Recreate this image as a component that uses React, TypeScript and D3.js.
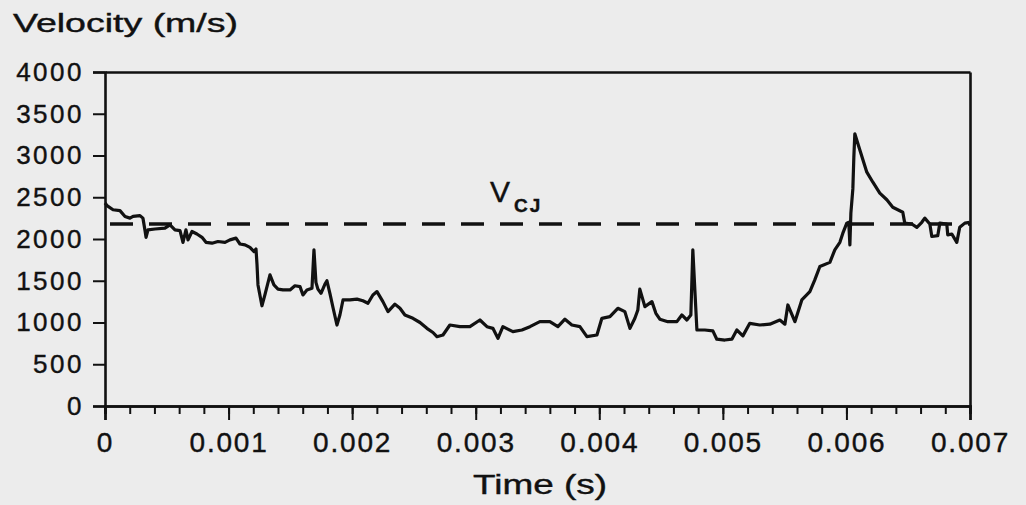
import React, { useEffect, useRef } from "react";
import * as d3 from "d3";

const WIDTH = 1026;
const HEIGHT = 505;

// Measured velocity trace: time (s) and velocity (m/s)
const timeS = [
  0.0, 0.000016, 0.000065, 0.000121, 0.000162, 0.000202, 0.000227, 0.000283, 0.000307, 0.000324,
  0.000332, 0.000348, 0.000405, 0.000485, 0.000526, 0.000566, 0.000607, 0.000631, 0.000655, 0.000672,
  0.000704, 0.000744, 0.000785, 0.000817, 0.000866, 0.000914, 0.000971, 0.001011, 0.00106, 0.001092,
  0.001133, 0.001173, 0.001206, 0.001222, 0.00123, 0.001238, 0.00127, 0.001294, 0.001335, 0.001367,
  0.0014, 0.00144, 0.001497, 0.001537, 0.001578, 0.001602, 0.001634, 0.001675, 0.001691, 0.001707,
  0.001723, 0.001748, 0.00178, 0.001796, 0.00182, 0.001845, 0.001877, 0.001901, 0.001926, 0.001982,
  0.002039, 0.002087, 0.002128, 0.002168, 0.002201, 0.002249, 0.00229, 0.002346, 0.002387, 0.002427,
  0.002492, 0.002549, 0.002605, 0.002654, 0.002686, 0.002735, 0.002791, 0.002872, 0.002953, 0.003034,
  0.003091, 0.003139, 0.00318, 0.00322, 0.003301, 0.003374, 0.003439, 0.003519, 0.0036, 0.003665,
  0.003722, 0.003778, 0.003843, 0.0039, 0.003981, 0.004021, 0.004086, 0.00415, 0.004207, 0.004248,
  0.004288, 0.004312, 0.004328, 0.004369, 0.004426, 0.004458, 0.00449, 0.004555, 0.004628, 0.004668,
  0.004709, 0.004741, 0.004757, 0.004773, 0.00479, 0.004854, 0.004919, 0.004951, 0.005016, 0.005073,
  0.005113, 0.005162, 0.005218, 0.005299, 0.00538, 0.005461, 0.005502, 0.005526, 0.005583, 0.005639,
  0.005704, 0.005744, 0.005785, 0.005866, 0.005906, 0.005947, 0.005971, 0.006003, 0.006019, 0.006028,
  0.006036, 0.006052, 0.00606, 0.006068, 0.006108, 0.006165, 0.006214, 0.00627, 0.006327, 0.006375,
  0.006456, 0.006472, 0.006529, 0.00657, 0.00661, 0.006634, 0.006675, 0.006691, 0.006739, 0.006756,
  0.006812, 0.00682, 0.006853, 0.006893, 0.006917, 0.006958, 0.006998,
];

const velocity = [
  2430, 2400, 2350, 2340, 2270, 2250, 2270, 2280, 2250, 2100,
  2020, 2110, 2120, 2130, 2170, 2110, 2100, 1960, 2110, 1990,
  2090, 2060, 2020, 1960, 1950, 1970, 1960, 1990, 2010, 1940,
  1930, 1900, 1850, 1880, 1700, 1450, 1200, 1330, 1570, 1450,
  1400, 1390, 1390, 1440, 1430, 1330, 1390, 1410, 1870, 1480,
  1400, 1350, 1460, 1500, 1350, 1180, 970, 1090, 1270, 1270,
  1280, 1260, 1230, 1330, 1370, 1250, 1130, 1220, 1170, 1090,
  1050, 1000, 930, 880, 830, 850, 970, 950, 950, 1030,
  950, 930, 810, 950, 890, 910, 950, 1010, 1010, 950,
  1040, 970, 950, 830, 850, 1050, 1070, 1170, 1130, 930,
  1050, 1150, 1400, 1190, 1250, 1110, 1040, 1010, 1010, 1090,
  1030, 1090, 1870, 1400, 910, 910, 900, 800, 790, 800,
  910, 840, 990, 970, 980, 1030, 980, 1210, 1010, 1270,
  1370, 1510, 1670, 1720, 1870, 1960, 2070, 2190, 2200, 1930,
  2310, 2600, 2980, 3260, 3070, 2800, 2680, 2550, 2470, 2380,
  2320, 2190, 2180, 2140, 2200, 2250, 2180, 2030, 2040, 2190,
  2180, 2050, 2060, 1960, 2140, 2190, 2200,
];

// Chapman-Jouguet detonation velocity
const vCJ = 2180;

const yTickValues = [0, 500, 1000, 1500, 2000, 2500, 3000, 3500, 4000];
const xTickValues = [0, 0.001, 0.002, 0.003, 0.004, 0.005, 0.006, 0.007];
const xTickLabels = ["0", "0.001", "0.002", "0.003", "0.004", "0.005", "0.006", "0.007"];

const FONT = "'Liberation Sans', Arial, Helvetica, sans-serif";

export default function App() {
  const axesRef = useRef<SVGGElement | null>(null);

  const x = d3.scaleLinear().domain([0, 0.007]).range([105, 970]);
  const y = d3.scaleLinear().domain([0, 4000]).range([406, 72]);

  const points = timeS.map((t, i) => [t, velocity[i]] as [number, number]);
  const line = d3
    .line<[number, number]>()
    .x((d) => x(d[0]))
    .y((d) => y(d[1]));

  useEffect(() => {
    const g = d3.select(axesRef.current);
    g.selectAll("*").remove();

    // Left axis
    const left = g
      .append("g")
      .attr("transform", `translate(${x(0)},0)`)
      .call(d3.axisLeft(y).tickValues(yTickValues).tickSize(12).tickPadding(9).tickFormat(d3.format("d")));

    // Bottom axis, minor ticks
    g.append("g")
      .attr("transform", `translate(0,${y(0)})`)
      .call(d3.axisBottom(x).tickValues(x.ticks(35)).tickSize(8).tickFormat(() => ""));

    // Bottom axis, major ticks
    const bottom = g
      .append("g")
      .attr("transform", `translate(0,${y(0)})`)
      .call(
        d3
          .axisBottom(x)
          .tickValues(xTickValues)
          .tickSize(14)
          .tickPadding(12)
          .tickFormat((_, i) => xTickLabels[i])
      );

    // Top and right frame
    g.append("g")
      .attr("transform", `translate(0,${y(4000)})`)
      .call(d3.axisTop(x).tickValues([]).tickSizeOuter(0));
    g.append("g")
      .attr("transform", `translate(${x(0.007)},0)`)
      .call(d3.axisRight(y).tickValues([]).tickSizeOuter(0));

    g.selectAll(".domain").attr("stroke", "#111").attr("stroke-width", 2.6);
    g.selectAll(".tick line").attr("stroke", "#111").attr("stroke-width", 2);

    left
      .selectAll(".tick text")
      .attr("font-family", FONT)
      .attr("font-size", 26)
      .attr("letter-spacing", 2.5)
      .attr("fill", "#111")
      .attr("stroke", "#111")
      .attr("stroke-width", 0.4);
    bottom
      .selectAll(".tick text")
      .attr("font-family", FONT)
      .attr("font-size", 28)
      .attr("letter-spacing", 1.8)
      .attr("fill", "#111")
      .attr("stroke", "#111")
      .attr("stroke-width", 0.4);
  }, []);

  return (
    <svg
      width={WIDTH}
      height={HEIGHT}
      style={{ position: "fixed", left: 0, top: 0, background: "#ececec" }}
    >
      <rect x={0} y={0} width={WIDTH} height={HEIGHT} fill="#ececec" />
      <g ref={axesRef} />
      <line
        x1={110}
        x2={x(0.007)}
        y1={y(vCJ)}
        y2={y(vCJ)}
        stroke="#111"
        strokeWidth={3.4}
        strokeDasharray="23 16"
      />
      <path d={line(points) ?? ""} fill="none" stroke="#111" strokeWidth={3.2} strokeLinejoin="round" />
      <g fontFamily={FONT} fill="#111" stroke="#111" strokeWidth={0.4}>
        <text x={13} y={32} fontSize={26} textLength={225} lengthAdjust="spacingAndGlyphs">
          Velocity  (m/s)
        </text>
        <text x={473} y={494} fontSize={28} textLength={134} lengthAdjust="spacingAndGlyphs">
          Time  (s)
        </text>
        <text x={490} y={202} fontSize={30}>
          V
        </text>
        <text x={514} y={212} fontSize={19} fontWeight="bold" letterSpacing={2}>
          CJ
        </text>
      </g>
    </svg>
  );
}
